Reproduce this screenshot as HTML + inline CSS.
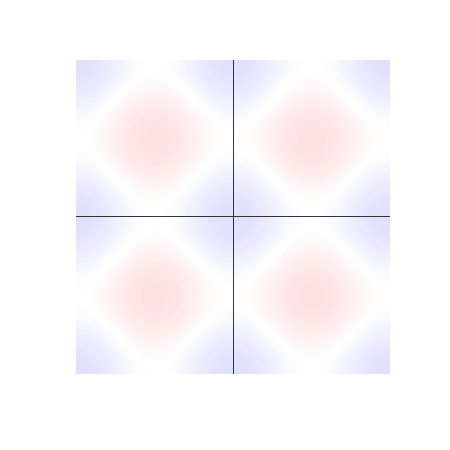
<!DOCTYPE html>
<html><head><meta charset="utf-8"><style>
html,body{margin:0;padding:0;background:#fff;width:450px;height:450px;overflow:hidden;font-family:"Liberation Sans",sans-serif}
#wrap{position:absolute;left:76px;top:60px;width:314px;height:314px}
#heat{position:absolute;left:0;top:0;width:314px;height:314px;image-rendering:auto}
.ax{position:absolute;background:#333}
</style></head><body>
<div id="wrap">
<canvas id="heat" width="48" height="48"></canvas>
<div class="ax" style="left:157px;top:0;width:1px;height:314px"></div>
<div class="ax" style="left:0;top:156px;width:314px;height:1px"></div>
</div>
<script>
// profile along x and y per period (red center, blue corners)
const profileX = [-0.99,-0.92,-0.79,-0.61,-0.38,-0.13,0.13,0.38,0.61,0.79,0.92,0.99,0.99,0.92,0.79,0.61,0.38,0.13,-0.13,-0.38,-0.61,-0.79,-0.92,-0.99];
const profileY = [-0.99,-0.92,-0.79,-0.61,-0.38,-0.13,0.13,0.38,0.61,0.79,0.92,0.99,0.99,0.92,0.79,0.61,0.38,0.13,-0.13,-0.38,-0.61,-0.79,-0.92,-0.99];
const periods = 2;
const vmax = 2;
const cv = document.getElementById('heat');
const ctx = cv.getContext('2d');
function color(v){
  const t = Math.max(-1, Math.min(1, v / vmax));
  const d = Math.round(32 * Math.abs(t));
  return t >= 0 ? `rgb(255,${255-d},${255-d})` : `rgb(${255-d},${255-d},255)`;
}
const n = profileX.length;
for (let j = 0; j < n * periods; j++) {
  for (let i = 0; i < n * periods; i++) {
    const v = profileX[i % n] + profileY[j % n];
    ctx.fillStyle = color(v);
    ctx.fillRect(i, j, 1, 1);
  }
}
</script>
</body></html>
